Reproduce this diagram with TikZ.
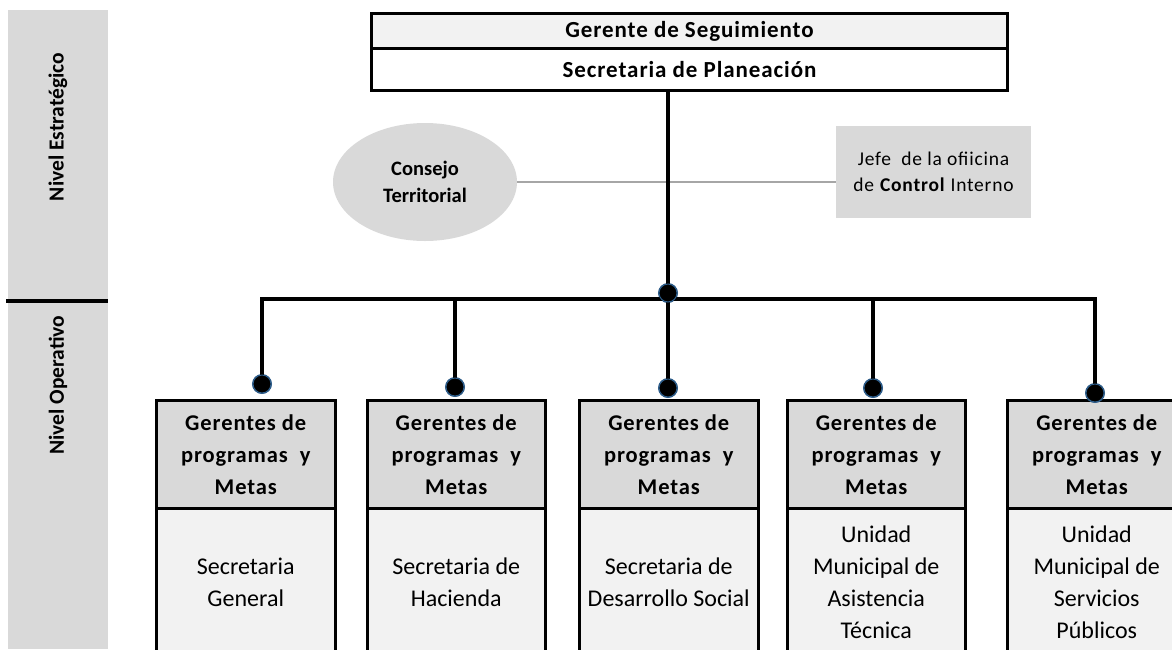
\documentclass[tikz,border=0pt]{standalone}
\usepackage{fontspec}
\setmainfont{Carlito}
\newfontfamily\topfont[LetterSpace=4]{Carlito}
\newfontfamily\hdrfont[LetterSpace=4]{Carlito}
\newfontfamily\jefefont[LetterSpace=4]{Carlito}
\usetikzlibrary{shapes.geometric}
\definecolor{gA}{HTML}{D9D9D9}
\definecolor{gB}{HTML}{F2F2F2}
\definecolor{lineg}{HTML}{A6A6A6}
\definecolor{dotb}{HTML}{2E5E8C}
\begin{document}
\begin{tikzpicture}[x=1pt,y=-1pt,
  topbox/.style={draw, line width=3, anchor=north west, inner sep=0, minimum width=636,
    font=\topfont\bfseries\fontsize{23}{26}\selectfont},
  hdr/.style={draw, line width=2.5, fill=gA, anchor=north west, inner sep=0, minimum height=108,
    align=center, font=\hdrfont\bfseries\fontsize{22.5}{32}\selectfont},
  body/.style={draw, line width=2.5, fill=gB, anchor=north west, inner sep=0, minimum height=148,
    align=center, font=\fontsize{24}{32}\selectfont},
  bus/.style={line width=4.5, line join=miter},
  dotn/.style={circle, fill=black, draw=dotb, line width=1, minimum size=19, inner sep=0},
  side/.style={rotate=90, font=\bfseries\fontsize{21.5}{26}\selectfont}
]
\useasboundingbox (0,0) rectangle (1172,649);
\clip (0,0) rectangle (1172,649);

% left level column
\fill[gA] (8,10) rectangle (108,649);
\draw[line width=3.5] (6,301) -- (108,301);
\node[side] (ne) at (58,127) {Nivel Estratégico};
\node[side] (no) at (58,385) {Nivel Operativo};

% top box
\node[topbox, fill=gB, minimum height=35] (gs) at (370,12) {Gerente de Seguimiento};
\node[topbox, fill=white, minimum height=42] (sp) at (370,47) {Secretaria de Planeación};

% consejo and jefe
\node[ellipse, fill=gA, minimum width=184, minimum height=118, inner sep=0, align=center,
  font=\bfseries\fontsize{20.5}{27}\selectfont] (ct) at (425,182) {Consejo\\Territorial};
\node[fill=gA, minimum width=195, minimum height=92, inner sep=0, align=center,
  font=\jefefont\fontsize{19.5}{26}\selectfont] (jf) at (933.5,172) {Jefe\ \ de la ofiicina\\de \textbf{Control} Interno};
\draw[lineg, line width=1.5] (ct.east) -- (ct.east -| jf.west);

% junction
\coordinate (bL) at (263,299);
\node[dotn] (j) at (668,293) {};

% boxes
\node[hdr, minimum width=179] (h1) at (155,399) {Gerentes de\\programas\ \ y\\Metas};
\node[body, minimum width=179] (b1) at (155,507) {Secretaria\\General};
\node[hdr, minimum width=178] (h2) at (366,399) {Gerentes de\\programas\ \ y\\Metas};
\node[body, minimum width=178] (b2) at (366,507) {Secretaria de\\Hacienda};
\node[hdr, minimum width=179] (h3) at (578,399) {Gerentes de\\programas\ \ y\\Metas};
\node[body, minimum width=179] (b3) at (578,507) {Secretaria de\\Desarrollo Social};
\node[hdr, minimum width=178] (h4) at (786,399) {Gerentes de\\programas\ \ y\\Metas};
\node[body, minimum width=178] (b4) at (786,507) {Unidad\\Municipal de\\Asistencia\\Técnica};
\node[hdr, minimum width=179] (h5) at (1006,399) {Gerentes de\\programas\ \ y\\Metas};
\node[body, minimum width=179] (b5) at (1006,507) {Unidad\\Municipal de\\Servicios\\Públicos};

% dots
\node[dotn] (d1) at (262,384) {};
\node[dotn] (d2) at (455,387) {};
\node[dotn] (d3) at (668,388) {};
\node[dotn] (d4) at (873,388) {};
\node[dotn] (d5) at (1095,393) {};

% connectors
\draw[bus] (sp.south -| j) -- (j.center);
\draw[bus] (d1.center) -- (d1 |- bL) -- (d5 |- bL) -- (d5.center);
\draw[bus] (d2 |- bL) -- (d2.center);
\draw[bus] (d3 |- bL) -- (d3.center);
\draw[bus] (d4 |- bL) -- (d4.center);
% dots on top of the lines
\foreach \n in {j,d1,d2,d3,d4,d5}{
  \fill[black] (\n) circle (9);
  \draw[dotb, line width=1] (\n) circle (9);
}
\end{tikzpicture}
\end{document}
